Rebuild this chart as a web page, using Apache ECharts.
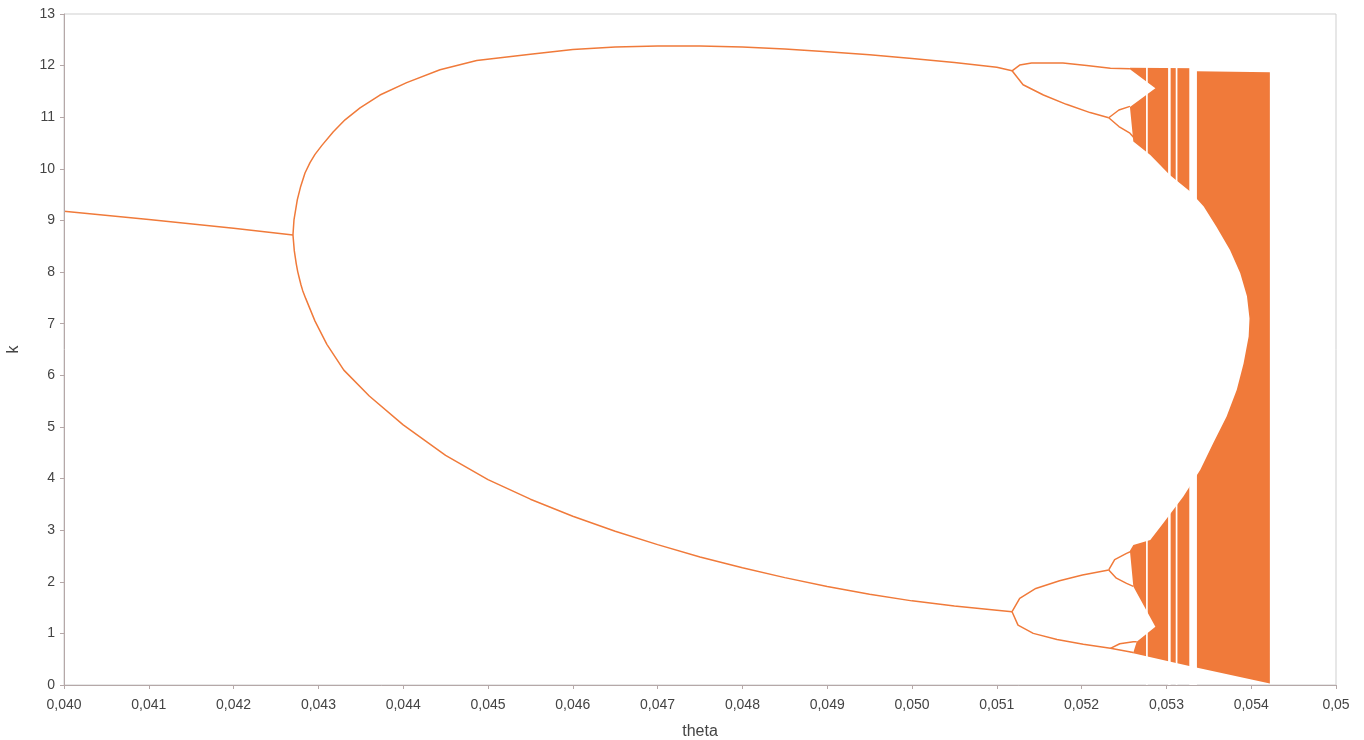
<!DOCTYPE html>
<html>
<head>
<meta charset="utf-8">
<script src="https://cdn.jsdelivr.net/npm/echarts@6/dist/echarts.min.js"></script>
<style>
  html, body { margin: 0; padding: 0; background: #fff; }
  #main { width: 1364px; height: 740px; }
</style>
</head>
<body>
<div id="main"></div>
<script>
// theta values and k values, one pair of arrays per branch
const p1X = [0.0400, 0.0410, 0.0420, 0.0427];
const p1K = [9.18, 9.02, 8.85, 8.72];

const p2UpX = [0.04270, 0.042712, 0.042751, 0.042791, 0.042842, 0.042901, 0.04296, 0.043039, 0.043176, 0.043314, 0.043491, 0.043726, 0.044041, 0.044434, 0.044867, 0.0455, 0.0460, 0.0465, 0.0470, 0.0475, 0.0480, 0.0485, 0.0490, 0.0495, 0.0500, 0.0505, 0.0510, 0.05118];
const p2UpK = [8.72, 9.01, 9.40, 9.66, 9.92, 10.12, 10.28, 10.45, 10.72, 10.95, 11.18, 11.43, 11.67, 11.92, 12.10, 12.22, 12.31, 12.36, 12.38, 12.38, 12.36, 12.32, 12.27, 12.21, 12.14, 12.06, 11.97, 11.90];

const p2LoX = [0.04270, 0.042716, 0.042739, 0.042756, 0.042775, 0.042795, 0.042815, 0.04285, 0.04296, 0.0431, 0.0433, 0.0436, 0.0440, 0.0445, 0.0450, 0.0455, 0.0460, 0.0465, 0.0470, 0.0475, 0.0480, 0.0485, 0.0490, 0.0495, 0.0500, 0.0505, 0.0510, 0.05118];
const p2LoK = [8.72, 8.41, 8.16, 8.01, 7.88, 7.75, 7.64, 7.49, 7.05, 6.6, 6.1, 5.6, 5.04, 4.45, 3.98, 3.6, 3.27, 2.98, 2.72, 2.48, 2.27, 2.08, 1.91, 1.76, 1.63, 1.53, 1.45, 1.42];

const p4aX = [0.05118, 0.05127, 0.05141, 0.05178, 0.05206, 0.05234, 0.05257];
const p4aK = [11.90, 12.01, 12.05, 12.05, 12.00, 11.95, 11.94];
const p4bX = [0.05118, 0.05131, 0.05155, 0.05182, 0.05210, 0.05232];
const p4bK = [11.90, 11.63, 11.43, 11.25, 11.09, 10.99];
const p8bUpX = [0.05232, 0.05244, 0.05257];
const p8bUpK = [10.99, 11.14, 11.21];
const p8bLoX = [0.05232, 0.05244, 0.05257, 0.05262];
const p8bLoK = [10.99, 10.82, 10.69, 10.60];

const p4cX = [0.05118, 0.05127, 0.05146, 0.05174, 0.05201, 0.05232];
const p4cK = [1.42, 1.68, 1.87, 2.02, 2.13, 2.23];
const p8cUpX = [0.05232, 0.05239, 0.05253, 0.05260];
const p8cUpK = [2.23, 2.43, 2.55, 2.60];
const p8cLoX = [0.05232, 0.05241, 0.05253, 0.05261];
const p8cLoK = [2.23, 2.07, 1.97, 1.91];
const p4dX = [0.05118, 0.05125, 0.05143, 0.05171, 0.05202, 0.05234, 0.05261];
const p4dK = [1.42, 1.16, 1.00, 0.88, 0.79, 0.71, 0.63];
const p8dX = [0.05234, 0.05245, 0.05261, 0.05265];
const p8dK = [0.71, 0.80, 0.84, 0.84];

// chaotic band: outer hull (top and bottom edges)
const topX = [0.05257, 0.05334, 0.05335, 0.05422];
const topK = [11.96, 11.95, 11.89, 11.87];
const bottomX = [0.05257, 0.05327, 0.05422];
const bottomK = [0.63, 0.37, 0.03];

// white hole inside the band: wedges, inner ellipse edges
const upWedgeTopX = [0.05257, 0.05287];
const upWedgeTopK = [11.93, 11.56];
const upWedgeBotX = [0.05257, 0.05287];
const upWedgeBotK = [11.20, 11.56];
const innerUpX = [0.05257, 0.05261, 0.05281, 0.05304, 0.05328, 0.05344, 0.05359, 0.05375, 0.05387, 0.05395, 0.05398];
const innerUpK = [11.2, 10.53, 10.27, 9.88, 9.56, 9.27, 8.88, 8.43, 7.98, 7.53, 7.1];
const innerLoX = [0.05257, 0.05261, 0.05281, 0.05296, 0.05320, 0.05340, 0.05355, 0.05371, 0.05383, 0.05391, 0.05397, 0.05398];
const innerLoK = [2.6, 2.71, 2.81, 3.13, 3.65, 4.17, 4.68, 5.2, 5.72, 6.23, 6.75, 7.1];
const loWedgeTopX = [0.05257, 0.05261, 0.05287];
const loWedgeTopK = [2.6, 1.91, 1.13];
const loWedgeBotX = [0.05261, 0.05265, 0.05287];
const loWedgeBotK = [0.63, 0.84, 1.13];
const holeLeftX = [0.05255, 0.05255];
const holeLeftK = [0.63, 11.93];

// periodic windows inside the chaos (white stripes)
const winStart = [0.05276, 0.05302, 0.05311, 0.05327];
const winEnd = [0.05278, 0.05305, 0.05313, 0.05336];
const winTop = 12.1;

const xTickMax = 0.055;

const ORANGE = '#f07a3a';
const zip = (xs, ks) => xs.map((x, i) => [x, ks[i]]);

function branch(xs, ks) {
  return {
    type: 'line', data: zip(xs, ks), symbol: 'none', silent: true,
    lineStyle: { color: ORANGE, width: 1.5 }, z: 4
  };
}

const hullPts = zip(topX, topK).concat(zip(bottomX, bottomK).reverse());
const holePts = [].concat(
  zip(upWedgeTopX, upWedgeTopK),
  zip(upWedgeBotX, upWedgeBotK).reverse(),
  zip(innerUpX, innerUpK),
  zip(innerLoX, innerLoK).reverse(),
  zip(loWedgeTopX, loWedgeTopK),
  zip(loWedgeBotX, loWedgeBotK).reverse(),
  zip(holeLeftX, holeLeftK)
);

function renderChaos(params, api) {
  const toPx = (pts) => pts.map((p) => api.coord(p));
  const children = [
    { type: 'polygon', shape: { points: toPx(hullPts) }, style: { fill: ORANGE } },
    { type: 'polygon', shape: { points: toPx(holePts) }, style: { fill: '#ffffff' } }
  ];
  winStart.forEach((a, i) => {
    const p0 = api.coord([a, winTop]);
    const p1 = api.coord([winEnd[i], 0]);
    children.push({
      type: 'rect',
      shape: { x: p0[0], y: p0[1], width: p1[0] - p0[0], height: p1[1] - p0[1] },
      style: { fill: '#ffffff' }
    });
  });
  return { type: 'group', children: children };
}

let myChart = echarts.init(document.getElementById('main'));

let options = {
  animation: false,
  backgroundColor: '#fff',
  grid: {
    left: 64, right: 28, top: 14, bottom: 55, show: true,
    borderColor: '#cfcfcf', borderWidth: 1, outerBoundsMode: 'none'
  },
  xAxis: {
    type: 'value', min: 0.040, max: xTickMax, interval: 0.001, z: 5,
    name: 'theta', nameLocation: 'middle', nameGap: 39,
    nameTextStyle: { fontFamily: 'Liberation Sans', fontSize: 16, color: '#444' },
    axisLine: { lineStyle: { color: '#b5a8a8' } },
    axisTick: { length: 4, lineStyle: { color: '#b5a8a8' } },
    splitLine: { show: false },
    axisLabel: {
      fontFamily: 'Liberation Sans', fontSize: 14, color: '#444', margin: 13,
      formatter: (v) => Math.abs(v - xTickMax) < 1e-9 ? '0,05' : v.toFixed(3).replace('.', ',')
    }
  },
  yAxis: {
    type: 'value', min: 0, max: 13, interval: 1, z: 5,
    name: 'k', nameLocation: 'middle', nameGap: 42,
    nameTextStyle: { fontFamily: 'Liberation Sans', fontSize: 16, color: '#444' },
    axisLine: { show: true, lineStyle: { color: '#b5a8a8' } },
    axisTick: { show: true, length: 4, lineStyle: { color: '#b5a8a8' } },
    splitLine: { show: false },
    axisLabel: { fontFamily: 'Liberation Sans', fontSize: 14, color: '#444', margin: 9 }
  },
  series: [
    {
      type: 'custom', silent: true, z: 2,
      data: [[0.0530, 6]],
      renderItem: renderChaos
    },
    branch(p1X, p1K),
    branch(p2UpX, p2UpK),
    branch(p2LoX, p2LoK),
    branch(p4aX, p4aK),
    branch(p4bX, p4bK),
    branch(p8bUpX, p8bUpK),
    branch(p8bLoX, p8bLoK),
    branch(p4cX, p4cK),
    branch(p8cUpX, p8cUpK),
    branch(p8cLoX, p8cLoK),
    branch(p4dX, p4dK),
    branch(p8dX, p8dK)
  ]
};

myChart.setOption(options);
</script>
</body>
</html>
